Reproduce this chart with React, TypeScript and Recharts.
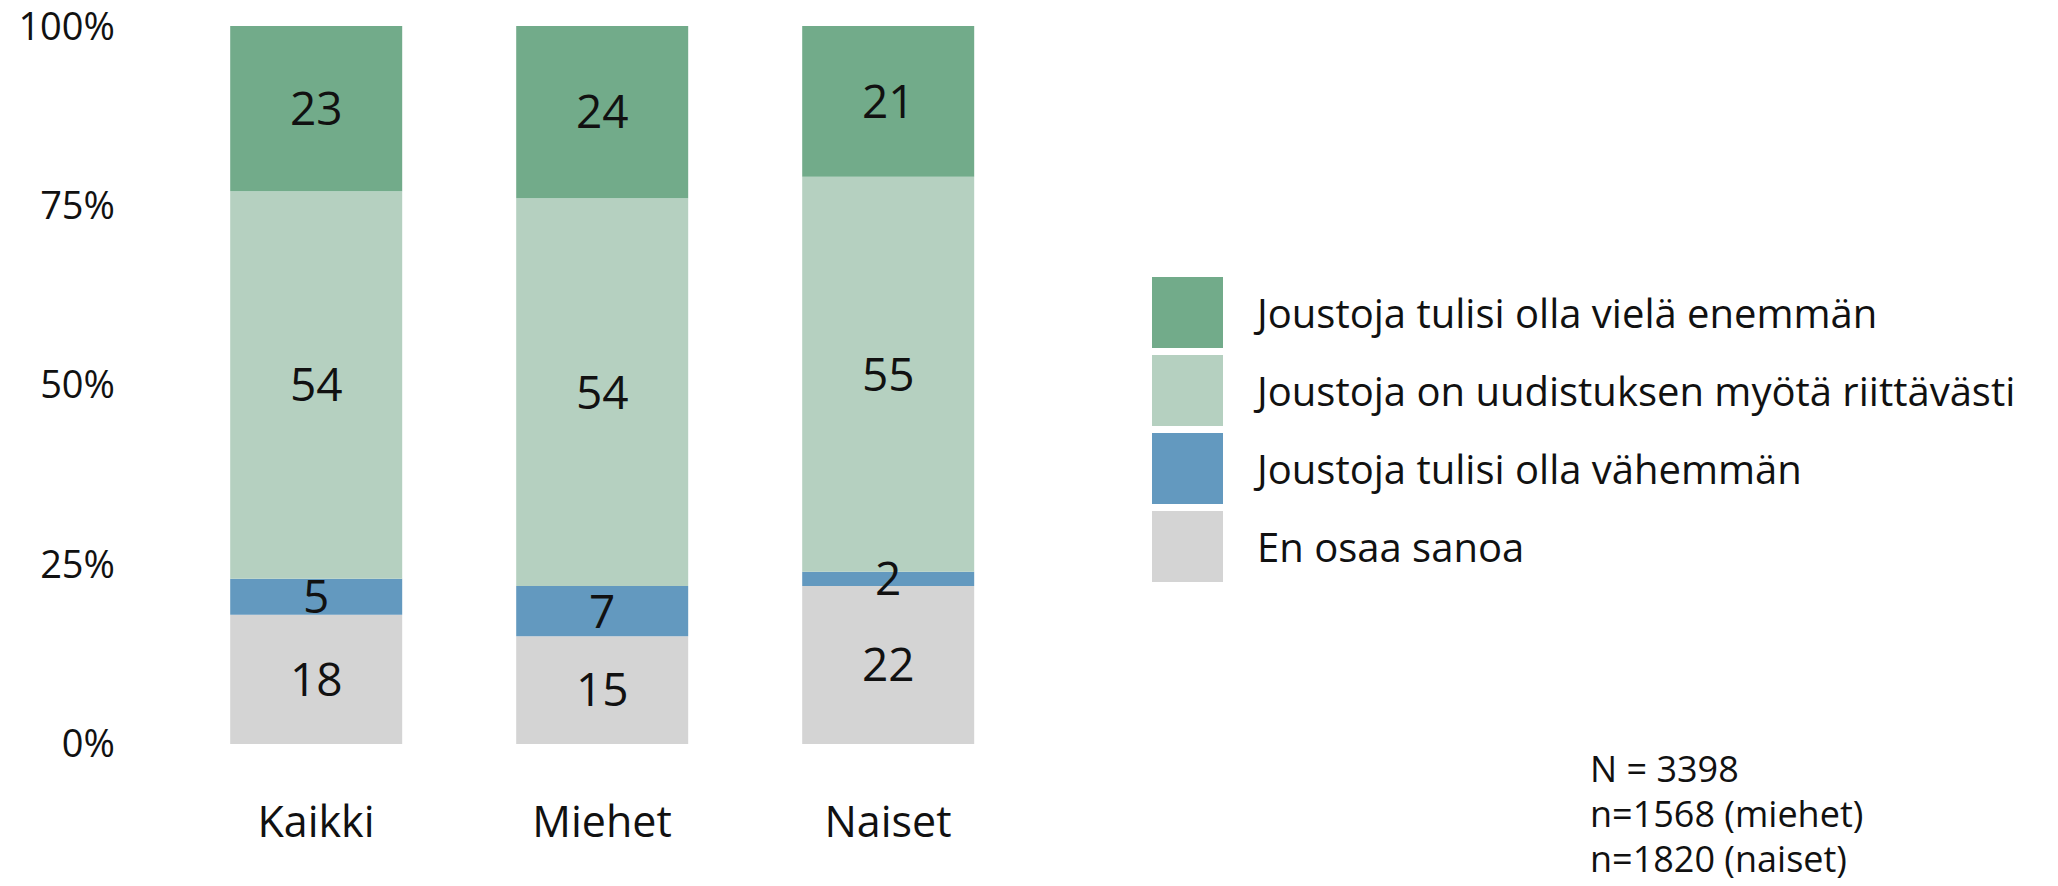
import { BarChart, Bar, XAxis, YAxis, LabelList } from 'recharts';

const categories = ['Kaikki', 'Miehet', 'Naiset'];
const enOsaa = [18, 15, 22];
const vahemman = [5, 7, 2];
const riittavasti = [54, 54, 55];
const enemman = [23, 24, 21];
const yTicks = [0, 25, 50, 75, 100];

const series = [
  { key: 'enOsaa', name: 'En osaa sanoa', color: '#D4D4D4' },
  { key: 'vahemman', name: 'Joustoja tulisi olla vähemmän', color: '#6399BF' },
  { key: 'riittavasti', name: 'Joustoja on uudistuksen myötä riittävästi', color: '#B5D0C0' },
  { key: 'enemman', name: 'Joustoja tulisi olla vielä enemmän', color: '#72AB8A' },
];

const data = categories.map((name, i) => ({
  name,
  enOsaa: enOsaa[i],
  vahemman: vahemman[i],
  riittavasti: riittavasti[i],
  enemman: enemman[i],
}));

const FONT = '"Open Sans", sans-serif';

function LegendBox() {
  const items = [...series].reverse();
  return (
    <div style={{ position: 'absolute', left: 1152, top: 277, fontFamily: FONT }}>
      {items.map((s) => (
        <div key={s.key} style={{ display: 'flex', alignItems: 'center', height: 71, marginBottom: 7 }}>
          <div style={{ width: 71, height: 71, background: s.color, flexShrink: 0 }} />
          <span style={{ marginLeft: 34, fontSize: 40, color: '#111', whiteSpace: 'nowrap' }}>{s.name}</span>
        </div>
      ))}
    </div>
  );
}

export default function App() {
  return (
    <div style={{ position: 'fixed', left: 0, top: 0, width: 2058, height: 886, background: '#fff', fontFamily: FONT }}>
      <BarChart
        width={2058}
        height={886}
        data={data}
        margin={{ top: 26, right: 1027, bottom: 112, left: 0 }}
        barCategoryGap="20%"
      >
        <XAxis
          dataKey="name"
          height={30}
          axisLine={false}
          tickLine={false}
          tickSize={0}
          tickMargin={62}
          tick={{ fill: '#111', fontSize: 43, fontFamily: FONT }}
        />
        <YAxis
          type="number"
          domain={[0, 100]}
          ticks={yTicks}
          width={173}
          axisLine={false}
          tickLine={false}
          tickSize={0}
          tickMargin={58}
          tickFormatter={(v: number) => `${v}%`}
          tick={{ fill: '#111', fontSize: 38, fontFamily: FONT }}
        />
        {series.map((s) => (
          <Bar key={s.key} dataKey={s.key} name={s.name} stackId="a" fill={s.color} isAnimationActive={false}>
            <LabelList dataKey={s.key} position="center" fill="#111" fontSize={46} fontFamily={FONT} />
          </Bar>
        ))}
      </BarChart>
      <LegendBox />
      <div
        style={{
          position: 'absolute',
          left: 1590,
          top: 746,
          fontSize: 36,
          lineHeight: '45px',
          color: '#111',
          whiteSpace: 'nowrap',
        }}
      >
        <div>N = 3398</div>
        <div>n=1568 (miehet)</div>
        <div>n=1820 (naiset)</div>
      </div>
    </div>
  );
}
